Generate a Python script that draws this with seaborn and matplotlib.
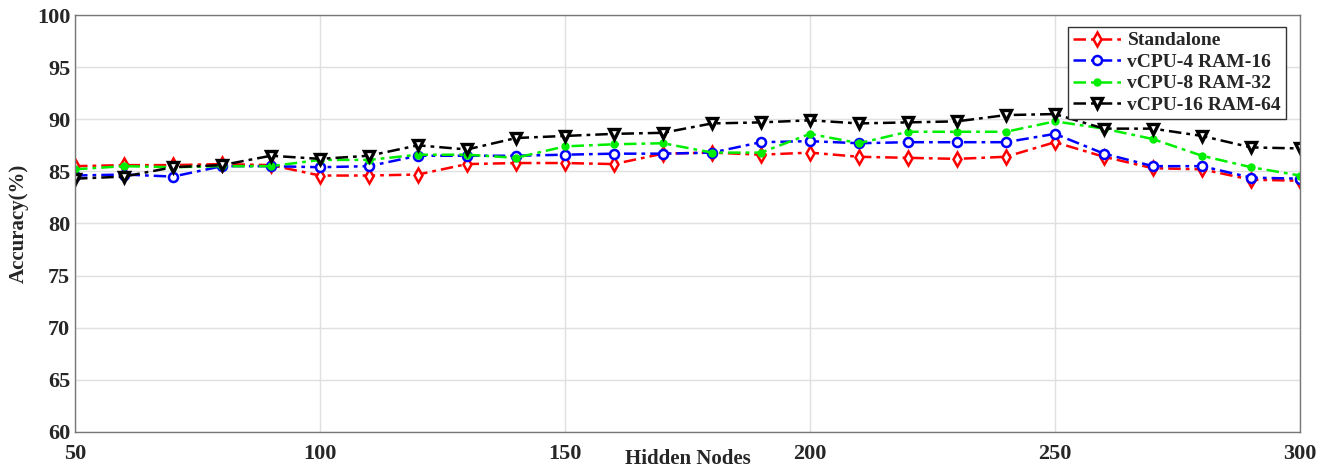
import pandas as pd
import matplotlib
matplotlib.use("Agg")
import matplotlib.pyplot as plt
import seaborn as sns

# Data
hidden_nodes = list(range(50, 301, 10))
standalone = [85.5, 85.6, 85.6, 85.7, 85.6, 84.6, 84.6, 84.7, 85.7, 85.8, 85.8, 85.7, 86.7,
              86.8, 86.6, 86.8, 86.4, 86.3, 86.2, 86.4, 87.8, 86.4, 85.3, 85.2, 84.2, 84.1]
vcpu4 = [84.6, 84.7, 84.5, 85.5, 85.5, 85.4, 85.5, 86.5, 86.5, 86.5, 86.6, 86.7, 86.7,
         86.8, 87.8, 87.9, 87.7, 87.8, 87.8, 87.8, 88.6, 86.7, 85.5, 85.5, 84.4, 84.3]
vcpu8 = [85.2, 85.5, 85.4, 85.5, 85.5, 86.1, 86.1, 86.6, 86.6, 86.3, 87.4, 87.6, 87.7,
         86.8, 86.8, 88.6, 87.7, 88.8, 88.8, 88.8, 89.8, 89.1, 88.1, 86.5, 85.4, 84.6]
vcpu16 = [84.3, 84.5, 85.4, 85.6, 86.5, 86.2, 86.5, 87.5, 87.1, 88.2, 88.4, 88.6, 88.7,
          89.6, 89.7, 89.9, 89.6, 89.7, 89.8, 90.4, 90.5, 89.1, 89.1, 88.4, 87.3, 87.2]

series = {
    "Standalone": standalone,
    "vCPU-4 RAM-16": vcpu4,
    "vCPU-8 RAM-32": vcpu8,
    "vCPU-16 RAM-64": vcpu16,
}

sns.set_style("white")
plt.rcParams["font.family"] = ["Liberation Serif", "DejaVu Serif"]
plt.rcParams["font.weight"] = "bold"

fig = plt.figure(figsize=(13.3, 4.7), dpi=100)
ax = fig.add_axes([0.0564, 0.081, 0.921, 0.887])

# Marker styles per series
styles = {
    "Standalone": dict(color="#ff0000", marker="d", mfc="white", mec="#ff0000", ms=7, mew=1.8),
    "vCPU-4 RAM-16": dict(color="#0000ff", marker="o", mfc="white", mec="#0000ff", ms=6.5, mew=1.8),
    "vCPU-8 RAM-32": dict(color="#00ee00", marker="o", mfc="#00ee00", mec="#00ee00", ms=5, mew=1),
    "vCPU-16 RAM-64": dict(color="black", marker="v", mfc="white", mec="black", ms=7.5, mew=2.4),
}

for name, vals in series.items():
    df = pd.DataFrame({"Hidden Nodes": hidden_nodes, "Accuracy": vals})
    st = styles[name]
    sns.lineplot(data=df, x="Hidden Nodes", y="Accuracy", ax=ax, label=name,
                 color=st["color"], marker=st["marker"], markerfacecolor=st["mfc"],
                 markeredgecolor=st["mec"], markersize=st["ms"], markeredgewidth=st["mew"],
                 linewidth=1.8, dashes=(5, 2, 1.5, 2), legend=False)

ax.set_xlim(50, 300)
ax.set_ylim(60, 100)
ax.set_xticks(range(50, 301, 50))
ax.set_yticks(range(60, 101, 5))
ax.grid(True, color="#e0e0e0", linewidth=1)
ax.tick_params(axis="both", direction="in", length=5, labelsize=16, color="#555555")
for lab in ax.get_xticklabels() + ax.get_yticklabels():
    lab.set_fontweight("bold")
ax.tick_params(axis="x", pad=9)
for sp in ax.spines.values():
    sp.set_color("#777777")
    sp.set_linewidth(1)

ax.set_xlabel("Hidden Nodes", fontsize=15, fontweight="bold")
ax.xaxis.set_label_coords(0.5, -0.042)
ax.set_ylabel("Accuracy(%)", fontsize=15, fontweight="bold", labelpad=6)

leg = ax.legend(handles=ax.get_lines(), labels=list(series.keys()),
                loc="upper right", bbox_to_anchor=(0.9965, 0.995), fontsize=14,
                frameon=True, fancybox=False, edgecolor="#333333", framealpha=1,
                handlelength=2.5, borderpad=0.25, labelspacing=0.2, handletextpad=0.3)
leg.get_frame().set_linewidth(1)
for t in leg.get_texts():
    t.set_fontweight("bold")

fig.savefig("out.png", dpi=100)
